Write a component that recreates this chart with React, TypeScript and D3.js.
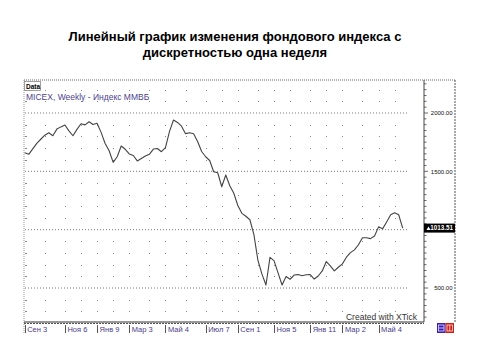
import React from "react";
import * as d3 from "d3";

const titleLines = ["Линейный график изменения фондового индекса с", "дискретностью одна неделя"];
const seriesName = "MICEX, Weekly - Индекс ММВБ";
const credit = "Created with XTick";

// weekly closes, Sep 2007 .. Jun 2009
const closes = [
  1660, 1646, 1693, 1740, 1775, 1810, 1831, 1805, 1862, 1881,
  1897, 1847, 1805, 1860, 1908, 1898, 1925, 1901, 1912, 1834,
  1739, 1676, 1577, 1625, 1717, 1689, 1649, 1636, 1589, 1610,
  1631, 1646, 1691, 1696, 1668, 1703, 1840, 1940, 1919, 1887,
  1823, 1830, 1822, 1756, 1670, 1625, 1593, 1496, 1488, 1368,
  1469, 1376, 1312, 1207, 1140, 1115, 1085, 957, 736, 619,
  526, 763, 734, 629, 526, 599, 575, 611, 615, 605,
  614, 615, 577, 603, 646, 727, 689, 646, 678, 707,
  764, 803, 827, 871, 931, 931, 923, 946, 1024, 1007,
  1066, 1128, 1145, 1128, 1013.51,
];
const lastValue = 1013.51;

// bar index of the first week of each month
const monthTicks = [0, 5, 10, 14, 18, 22, 26, 31, 35, 40, 45, 49, 53, 58, 62, 66, 71, 75, 79, 84, 88, 92];
const labelTicks = [0, 10, 18, 26, 35, 45, 53, 62, 71, 79, 88];
const labelTexts = ["Сен 3", "Ноя 6", "Янв 9", "Мар 3", "Май 4", "Июл 7", "Сен 1", "Ноя 5", "Янв 11", "Мар 2", "Май 4"];
const priceLabels = [500, 1500, 2000];
const majorLevels = [500, 1000, 1500, 2000];
const minorLevels = [300, 400, 600, 700, 800, 900, 1100, 1200, 1300, 1400, 1600, 1700, 1800, 1900, 2100, 2200];

export default function App() {
  const W = 480, H = 360;
  const left = 24, right = 424, axisRight = 455, top = 80, bottom = 322, stripBottom = 334;
  const x = d3.scaleLinear().domain([0, closes.length - 1]).range([24.7, 402.7]);
  const y = d3.scaleLinear().domain([500, 2000]).range([288, 113]);
  const line = d3.line<number>().x((_, i) => x(i)).y((d) => y(d));
  const gridEnd = 408;
  const font = "'Liberation Sans', Arial, sans-serif";
  const minorTicks = d3.range(250, 2300, 50);

  return (
    <svg width={W} height={H} style={{ position: "absolute", left: 0, top: 0 }} fontFamily={font}>
      <rect width={W} height={H} fill="#fff" />
      {titleLines.map((t, i) => (
        <text key={i} x={235} y={41 + i * 16} textAnchor="middle" fontSize={13} fontWeight="bold" fill="#000">
          {t}
        </text>
      ))}

      {/* frame */}
      <line x1={left} x2={axisRight} y1={top} y2={top} stroke="#666" strokeDasharray="1 1" />
      <line x1={left} x2={left} y1={top} y2={stripBottom} stroke="#999" strokeDasharray="1 1" />
      <line x1={axisRight} x2={axisRight} y1={top} y2={bottom} stroke="#555" strokeDasharray="2 1" />
      <line x1={right} x2={right} y1={top} y2={bottom} stroke="#444" />

      {/* major dotted grid */}
      {majorLevels.map((v) => (
        <line key={v} x1={left + 1} x2={gridEnd} y1={y(v)} y2={y(v)} stroke="#777" strokeDasharray="1 2" />
      ))}
      {/* minor dot grid */}
      {monthTicks.map((m) =>
        minorLevels.map((v) => (
          <rect key={m + "-" + v} x={Math.round(x(m))} y={Math.round(y(v))} width={1} height={1} fill="#888" />
        ))
      )}
      {minorLevels.map((v) => (
        <rect key={"l" + v} x={left + 1} y={Math.round(y(v))} width={2} height={1} fill="#888" />
      ))}

      {/* series */}
      <path d={line(closes) || ""} fill="none" stroke="#444" strokeWidth={1.1} strokeLinejoin="round" />

      {/* data tab and series name */}
      <rect x={left + 0.5} y={top + 1.5} width={16} height={9} fill="#fff" stroke="#888" strokeWidth={0.8} />
      <text x={left + 2} y={top + 8.5} fontSize={6.5} fontWeight="bold" fill="#000">Data</text>
      <text x={left + 2} y={top + 20} fontSize={8.5} fill="#4d3f8f">{seriesName}</text>

      <text x={417} y={320} fontSize={8.5} textAnchor="end" fill="#333">{credit}</text>

      {/* price axis */}
      {minorTicks.map((v) => (
        <line key={v} x1={right} x2={right + (v % 500 === 0 ? 4 : 2.5)} y1={y(v)} y2={y(v)} stroke="#444" strokeWidth={0.8} />
      ))}
      {priceLabels.map((v) => (
        <text key={v} x={452.5} y={y(v) + 2.2} fontSize={6} textAnchor="end" fill="#111">
          {v.toFixed(2)}
        </text>
      ))}
      <rect x={right} y={y(lastValue) - 4.5} width={axisRight - right} height={9} fill="#000" />
      <path d={`M${right + 2.5},${y(lastValue) + 2} L${right + 4.5},${y(lastValue) - 1.5} L${right + 6.5},${y(lastValue) + 2} Z`} fill="#fff" />
      <text x={453} y={y(lastValue) + 2.3} fontSize={6.3} fontWeight="bold" textAnchor="end" fill="#fff">
        {lastValue.toFixed(2)}
      </text>

      {/* bottom axis */}
      <line x1={left} x2={right} y1={bottom} y2={bottom} stroke="#333" />
      <line x1={left} x2={right} y1={bottom + 1.5} y2={bottom + 1.5} stroke="#555" strokeDasharray="2 1" />
      {labelTicks.map((t, i) => (
        <g key={i}>
          <line x1={Math.round(x(t)) + 0.5} x2={Math.round(x(t)) + 0.5} y1={bottom + 3} y2={bottom + 11} stroke="#555" />
          <text x={x(t) + 2.5} y={bottom + 9.5} fontSize={7.5} fill="#4a3c88">{labelTexts[i]}</text>
        </g>
      ))}

      {/* corner buttons */}
      <rect x={437} y={bottom + 1} width={8.5} height={10} fill="#3a1fc0" />
      <rect x={438.5} y={bottom + 3} width={5.5} height={6} fill="none" stroke="#fff" strokeWidth={0.7} />
      <line x1={438.5} x2={444} y1={bottom + 6} y2={bottom + 6} stroke="#fff" strokeWidth={0.7} />
      <rect x={445.5} y={bottom + 1} width={8.5} height={10} fill="#d0201a" />
      <rect x={447} y={bottom + 3} width={5.5} height={6} fill="none" stroke="#fff" strokeWidth={0.7} />
      <line x1={449.75} x2={449.75} y1={bottom + 3} y2={bottom + 9} stroke="#fff" strokeWidth={0.7} />
    </svg>
  );
}
